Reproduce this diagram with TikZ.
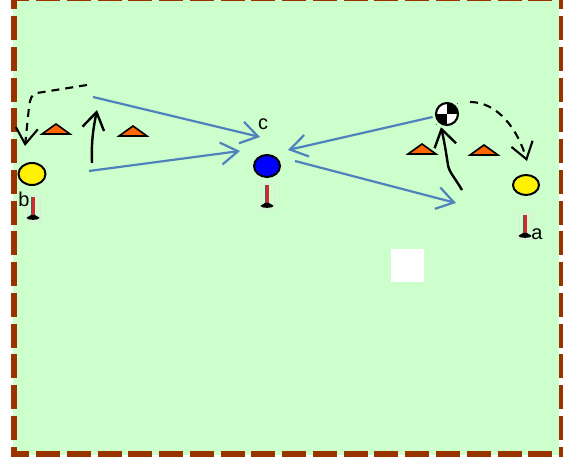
\documentclass[tikz,border=0pt]{standalone}
\usepackage{fontspec}
\setmainfont{Liberation Sans}
\usetikzlibrary{arrows.meta,shapes.geometric}
\definecolor{field}{RGB}{204,255,204}
\definecolor{edge}{RGB}{153,51,0}
\definecolor{passblue}{RGB}{79,129,189}
\definecolor{cone}{RGB}{255,102,0}
\definecolor{manred}{RGB}{214,40,50}
\tikzset{
  x=1pt,y=-1pt,
  borderline/.style={draw=edge,line width=6pt,dash pattern=on 24pt off 6.77pt},
  player/.style={ellipse,draw=black,line width=2pt,inner sep=0pt,minimum width=#1},
  conemark/.style={draw=black,line width=1.6pt,fill=cone,line join=miter},
  pass/.style={draw=passblue,line width=2.2pt,-{Straight Barb[length=17pt,width=22pt,line width=2.2pt]}},
  run/.style={draw=black,line width=2.4pt,-{Straight Barb[length=17pt,width=22pt,line width=2.4pt]}},
  dribble/.style={draw=black,line width=2.1pt,dash pattern=on 8pt off 6pt,-{Straight Barb[length=16pt,width=22pt,line width=2.1pt,sep=0pt]}},
  lab/.style={font=\fontsize{20}{20}\selectfont,inner sep=0pt,text=black},
}
\newcommand{\mannequin}[2]{%
  \draw[draw=black!10,line width=.3pt] (#1-6,#2-2) rectangle (#1+7,#2+24);
  \draw[draw=manred,line width=3.4pt] (#1,#2) -- (#1,#2+20);
  \draw[draw=black!65,line width=.8pt] (#1-1.6,#2) -- (#1-1.6,#2+20);
  \fill[black] (#1-2,#2+18) -- (#1+2,#2+18) -- (#1+6.5,#2+21) -- (#1-6.5,#2+21) -- cycle;
  \fill[black] (#1,#2+21) ellipse [x radius=6.5,y radius=1.8];
}
\newcommand{\conetri}[2]{%
  \draw[conemark] (#1,#2) -- (#1+14,#2+10) -- (#1-14,#2+10) -- cycle;
}
\begin{document}
\begin{tikzpicture}
\useasboundingbox (0,0) rectangle (563,462);
\fill[white] (0,0) rectangle (563,462);
\fill[field] (13,0) rectangle (559,455);
% border
\begin{scope}
\clip (11,0) rectangle (563,457);
\draw[borderline] (14,-14.77) -- (14,470);
\draw[borderline] (562,-14.77) -- (562,470);
\draw[borderline] (5.23,-2) -- (558,-2);
\draw[borderline] (5.23,454) -- (558,454);
\end{scope}
% white square
\fill[white] (391,249) rectangle (424,282);
% mannequins
\mannequin{33}{197}
\mannequin{267}{185}
\mannequin{525}{215}
% cones
\conetri{56}{124}
\conetri{133}{126}
\conetri{422}{144}
\conetri{484}{145}
% players
\node[player=27pt,minimum height=22pt,fill=yellow] (pb) at (32,174) {};
\node[player=26pt,minimum height=20pt,fill=yellow] (pa) at (526,185) {};
\node[player=26pt,minimum height=22pt,fill=blue] (pc) at (267,166) {};
% free ends
\coordinate (p1s) at (93,97);
\coordinate (p1e) at (260,137);
\coordinate (p2s) at (89,171);
\coordinate (p2e) at (240,151);
\coordinate (p3s) at (437,116);
\coordinate (p3e) at (288,150);
\coordinate (p4s) at (295,161);
\coordinate (p4e) at (456,203);
\coordinate (r1s) at (92,163);
\coordinate (r1e) at (97,110);
\coordinate (r2s) at (462,190);
\coordinate (r2e) at (441,127);
\coordinate (d1s) at (87,85);
\coordinate (d1e) at (25,146);
\coordinate (d2s) at (470,102);
\coordinate (d2e) at (527,161);
% passes
\draw[pass] (p1s) -- (p1e);
\draw[pass] (p2s) -- (p2e);
\draw[pass] (p3s) -- (p3e);
\draw[pass] (p4s) -- (p4e);
% runs
\draw[run] (r1s) .. controls (91,140) and (94,125) .. (r1e);
\draw[run] (r2s) .. controls (455,178) and (449,172) .. (448,165) .. controls (446,152) and (444,140) .. (r2e);
% dribbles
\draw[dribble] (d1s) -- (37,93) .. controls (31,94) and (30,100) .. (29,107) -- (d1e);
\draw[dribble] (d2s) .. controls (498,102) and (518,130) .. (d2e);
% ball
\node[circle,fill=white,minimum size=22pt,inner sep=0pt] (ball) at (447,114) {};
\fill[black] (436,114) rectangle (447,125);
\fill[black] (447,103) rectangle (458,114);
\draw[field,line width=3pt] (447,114) ++(13.2,0) arc[start angle=0,end angle=-360,radius=13.2];
\draw[black,line width=2.1pt] (447,114) ++(11,0) arc[start angle=0,end angle=-360,radius=11];
% labels
\node[lab] (lc) at (263,124) {c};
\node[lab] (lb) at (24,199) {b};
\node[lab] (la) at (537,234) {a};
\end{tikzpicture}
\end{document}
